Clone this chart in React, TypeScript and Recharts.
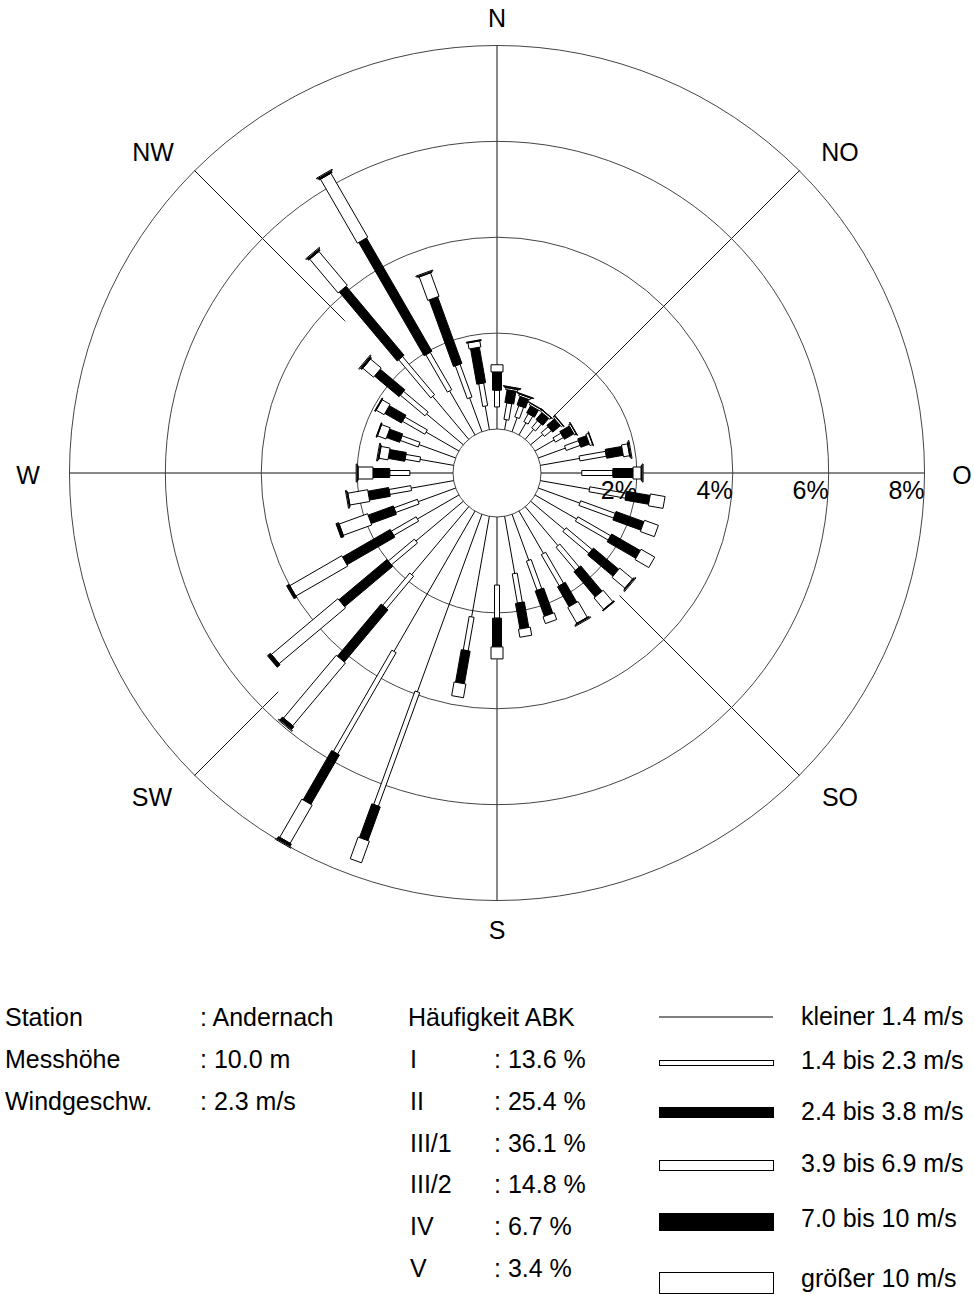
import React from 'react';
import { RadarChart, Radar, PolarGrid, PolarAngleAxis, PolarRadiusAxis } from 'recharts';

// Wind direction sectors (bearing in degrees, clockwise from north)
const directions = [
  '0', '10', '20', '30', '40', '50', '60', '70', '80',
  '90', '100', '110', '120', '130', '140', '150', '160', '170',
  '180', '190', '200', '210', '220', '230', '240', '250', '260',
  '270', '280', '290', '300', '310', '320', '330', '340', '350',
];

// Frequencies in % per speed class and direction
const speedBelow14 = [
  0.46, 0.21, 0.31, 0.29, 0.27, 0.33, 0.46, 0.60, 0.83,
  0.85, 1.04, 0.92, 1.00, 0.92, 1.06, 1.02, 1.02, 1.21,
  1.42, 2.13, 3.94, 3.38, 1.85, 1.29, 1.00, 0.83, 0.90,
  0.90, 0.71, 0.81, 0.79, 1.00, 1.17, 1.06, 0.75, 0.50,
];
const speed14to23 = [
  0.35, 0.35, 0.25, 0.19, 0.19, 0.19, 0.19, 0.31, 0.56,
  0.65, 0.77, 0.77, 0.79, 0.71, 0.63, 0.75, 0.65, 0.62,
  0.69, 0.71, 2.52, 2.44, 0.88, 0.71, 0.60, 0.52, 0.46,
  0.42, 0.31, 0.40, 0.54, 0.67, 1.04, 0.90, 0.73, 0.48,
];
const speed24to38 = [
  0.38, 0.27, 0.19, 0.17, 0.19, 0.21, 0.23, 0.19, 0.35,
  0.42, 0.50, 0.62, 0.69, 0.69, 0.69, 0.48, 0.56, 0.54,
  0.60, 0.69, 0.75, 1.19, 1.42, 1.31, 1.15, 0.56, 0.44,
  0.35, 0.35, 0.29, 0.40, 0.67, 1.88, 2.73, 1.48, 0.75,
];
const speed39to69 = [
  0.15, 0.04, 0.04, 0.04, 0.04, 0.04, 0.04, 0.06, 0.13,
  0.17, 0.31, 0.31, 0.33, 0.35, 0.31, 0.38, 0.15, 0.17,
  0.25, 0.29, 0.48, 0.92, 1.71, 1.81, 1.25, 0.63, 0.42,
  0.31, 0.19, 0.19, 0.19, 0.29, 0.92, 1.54, 0.52, 0.13,
];
const speed70to10 = [
  0.00, 0.02, 0.01, 0.00, 0.01, 0.01, 0.01, 0.01, 0.02,
  0.02, 0.00, 0.00, 0.00, 0.02, 0.02, 0.02, 0.00, 0.00,
  0.00, 0.00, 0.00, 0.06, 0.08, 0.08, 0.06, 0.06, 0.02,
  0.02, 0.02, 0.02, 0.02, 0.04, 0.04, 0.04, 0.02, 0.02,
];
const speedAbove10 = [
  0.00, 0.01, 0.01, 0.01, 0.00, 0.00, 0.00, 0.00, 0.02,
  0.02, 0.00, 0.00, 0.00, 0.02, 0.00, 0.02, 0.00, 0.00,
  0.00, 0.00, 0.00, 0.02, 0.02, 0.00, 0.00, 0.00, 0.02,
  0.02, 0.02, 0.00, 0.00, 0.02, 0.02, 0.02, 0.02, 0.00,
];

const radiusTicks = [0, 2, 4, 6, 8];
const compassLabels = ['N', 'NO', 'O', 'SO', 'S', 'SW', 'W', 'NW'];
const compassAngles = [90, 45, 0, -45, -90, -135, 180, 135];

const stationLabels = ['Station', 'Messhöhe', 'Windgeschw.'];
const stationValues = [': Andernach', ': 10.0 m', ': 2.3 m/s'];
const abkClasses = ['I', 'II', 'III/1', 'III/2', 'IV', 'V'];
const abkValues = [': 13.6 %', ': 25.4 %', ': 36.1 %', ': 14.8 %', ': 6.7 %', ': 3.4 %'];
const speedLabels = [
  'kleiner 1.4 m/s', '1.4 bis 2.3 m/s', '2.4 bis 3.8 m/s',
  '3.9 bis 6.9 m/s', '7.0 bis 10 m/s', 'größer 10 m/s',
];

const classSeries = [speedBelow14, speed14to23, speed24to38, speed39to69, speed70to10, speedAbove10];

const classStyles = [
  { kind: 'line', width: 1, fill: 'none' },
  { kind: 'rect', width: 5, fill: '#ffffff' },
  { kind: 'rect', width: 9, fill: '#000000' },
  { kind: 'rect', width: 12, fill: '#ffffff' },
  { kind: 'rect', width: 15, fill: '#000000' },
  { kind: 'rect', width: 18, fill: '#ffffff' },
];

const data = directions.map((dir, i) => {
  const row: any = { dir };
  let cum = 0;
  classSeries.forEach((arr, k) => {
    const start = cum;
    cum += arr[i];
    row['c' + (k + 1)] = [start, cum];
  });
  row.total = cum;
  return row;
});

const FONT = '"Liberation Sans", Arial, sans-serif';
const CX = 497;
const CY = 473;
const INNER = 44;
const OUTER = 428;
const RAD = Math.PI / 180;

function makeShape(style: { kind: string; width: number; fill: string }) {
  return (props: any) => {
    const pts: any[] = props.points || [];
    const base: any[] = props.baseLinePoints || [];
    return (
      <g>
        {pts.map((p: any, i: number) => {
          const v = p.value;
          if (!Array.isArray(v) || !(v[1] - v[0] > 0.0001)) return null;
          const a = -p.angle * RAD;
          const ux = Math.cos(a);
          const uy = Math.sin(a);
          let bx: number;
          let by: number;
          const b = base[i];
          if (b && Number.isFinite(b.x) && Number.isFinite(b.y)) {
            bx = b.x;
            by = b.y;
          } else {
            const r0 = INNER + (p.radius - INNER) * (v[1] > 0 ? v[0] / v[1] : 0);
            bx = p.cx + r0 * ux;
            by = p.cy + r0 * uy;
          }
          const ex = p.x;
          const ey = p.y;
          if (style.kind === 'line') {
            return <line key={i} x1={bx} y1={by} x2={ex} y2={ey} stroke="#000" strokeWidth={1} />;
          }
          const h = style.width / 2;
          const nx = -uy * h;
          const ny = ux * h;
          const poly = [
            [bx + nx, by + ny],
            [ex + nx, ey + ny],
            [ex - nx, ey - ny],
            [bx - nx, by - ny],
          ]
            .map((q) => q[0].toFixed(2) + ',' + q[1].toFixed(2))
            .join(' ');
          return <polygon key={i} points={poly} fill={style.fill} stroke="#000" strokeWidth={1} />;
        })}
      </g>
    );
  };
}

const RadiusTick = (props: any) => {
  const { x, y, payload } = props;
  if (!payload || payload.value === 0) return <g />;
  return (
    <text x={x} y={y + 26} textAnchor="end" fontSize={25} fontFamily={FONT} fill="#000">
      {payload.value + '%'}
    </text>
  );
};

const labelPos: Record<string, [number, number]> = {
  N: [497, 18], NO: [840, 152], O: [962, 475], SO: [840, 797],
  S: [497, 930], SW: [152, 797], W: [28, 475], NW: [153, 152],
};

export default function App() {
  const rowY = [1026, 1068, 1110, 1152, 1193, 1235, 1277];
  const speedLabelY = [1025, 1069, 1120, 1172, 1227, 1287];
  const sampleRects = [
    { y: 1060, h: 5, fill: '#fff' },
    { y: 1107, h: 10, fill: '#000' },
    { y: 1160, h: 10, fill: '#fff' },
    { y: 1213, h: 17, fill: '#000' },
    { y: 1272, h: 21, fill: '#fff' },
  ];
  const gridProps: any = { zIndex: 150 };
  const envProps: any = { zIndex: 50 };
  const spokeProps: any = { zIndex: 200 };
  const radialProps: any = { zIndex: -100 };
  return (
    <div style={{ position: 'absolute', left: 0, top: 0, width: 974, height: 1295, background: '#fff' }}>
      <RadarChart
        width={974}
        height={960}
        data={data}
        cx={CX}
        cy={CY}
        innerRadius={INNER}
        outerRadius={OUTER}
        startAngle={90}
        endAngle={-270}
        margin={{ top: 0, right: 0, bottom: 0, left: 0 }}
      >
        <PolarGrid
          gridType="circle"
          polarAngles={compassAngles}
          polarRadius={[]}
          stroke="#111"
          strokeOpacity={1}
          {...radialProps}
        />
        <Radar
          dataKey="total"
          fill="#ffffff"
          fillOpacity={1}
          stroke="none"
          isAnimationActive={false}
          dot={false}
          {...envProps}
        />
        <PolarGrid gridType="circle" radialLines={false} stroke="#444" strokeOpacity={1} {...gridProps} />
        {classStyles.map((st, k) => (
          <Radar
            key={k}
            dataKey={'c' + (k + 1)}
            shape={makeShape(st)}
            isAnimationActive={false}
            dot={false}
            fill="none"
            stroke="none"
            {...spokeProps}
          />
        ))}
        <PolarAngleAxis dataKey="dir" tick={false} axisLine={false} tickLine={false} />
        <PolarRadiusAxis
          angle={0}
          domain={[0, 8]}
          ticks={radiusTicks}
          type="number"
          axisLine={false}
          tickLine={false}
          tick={RadiusTick}
        />
      </RadarChart>
      <svg
        width={974}
        height={1295}
        style={{ position: 'absolute', left: 0, top: 0, pointerEvents: 'none' }}
        fontFamily={FONT}
        fontSize={25}
      >
        {compassLabels.map((l) => (
          <text key={l} x={labelPos[l][0]} y={labelPos[l][1]} textAnchor="middle" dominantBaseline="central" fill="#000">
            {l}
          </text>
        ))}
        {stationLabels.map((t, i) => (
          <text key={t} x={5} y={rowY[i]} fill="#000">{t}</text>
        ))}
        {stationValues.map((t, i) => (
          <text key={t} x={200} y={rowY[i]} fill="#000">{t}</text>
        ))}
        <text x={408} y={rowY[0]} fill="#000">Häufigkeit ABK</text>
        {abkClasses.map((t, i) => (
          <text key={t} x={410} y={rowY[i + 1]} fill="#000">{t}</text>
        ))}
        {abkValues.map((t, i) => (
          <text key={t} x={494} y={rowY[i + 1]} fill="#000">{t}</text>
        ))}
        <line x1={659} y1={1017} x2={773} y2={1017} stroke="#000" strokeWidth={1} />
        {sampleRects.map((r, i) => (
          <rect key={i} x={659.5} y={r.y + 0.5} width={114} height={r.h} fill={r.fill} stroke="#000" strokeWidth={1} />
        ))}
        {speedLabels.map((t, i) => (
          <text key={t} x={801} y={speedLabelY[i]} fill="#000">{t}</text>
        ))}
      </svg>
    </div>
  );
}
